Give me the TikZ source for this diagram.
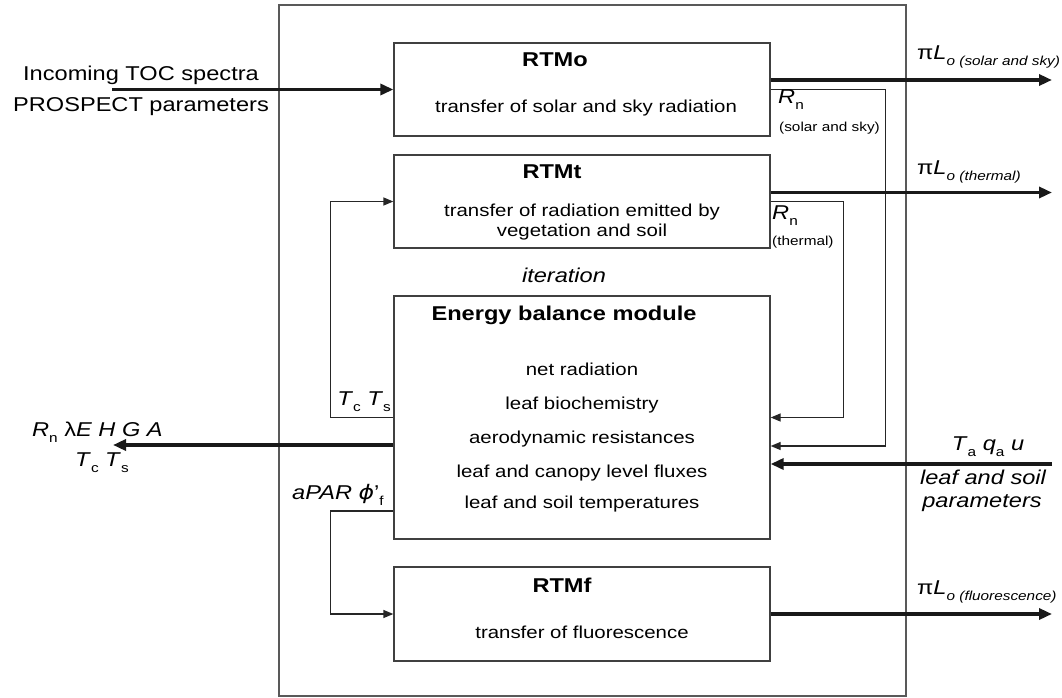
\documentclass[tikz,border=0pt]{standalone}
\usepackage{fontspec}
\setmainfont{Liberation Sans}[FakeStretch=1.18]
\newfontfamily\dvs{DejaVu Sans}[FakeStretch=1.18]
\usetikzlibrary{arrows.meta,calc}
\newcommand{\fs}[1]{\fontsize{#1}{#1}\selectfont}
\newcommand{\sbs}[1]{\raisebox{-0.3em}{\fontsize{13}{13}\selectfont #1}}
\begin{document}
\begin{tikzpicture}[x=1pt,y=-1pt,
  box/.style={draw=black!75, line width=1.3pt, minimum width=376pt, inner sep=0},
  thinln/.style={draw=black!85, line width=1.3pt},
  thinarr/.style={thinln, -{Triangle[length=10pt,width=8pt]}},
  thickarr/.style={draw=black!90, line width=3.5pt, -{Triangle[length=13pt,width=11pt]}},
  lbl/.style={inner sep=0, font=\fs{20}},
  body/.style={inner sep=0, font=\fs{17.3}},
  ttl/.style={inner sep=0, font=\fs{20}\bfseries},
  small/.style={inner sep=0, font=\fs{13}},
]
\useasboundingbox (0,0) rectangle (1062,698);
\node[draw=black!65, line width=1.3pt, minimum width=627pt, minimum height=691pt, inner sep=0] (outer) at (592.5,350.5) {};
% boxes
\node[box, minimum height=93pt] (rtmo) at (582,89.5) {};
\node[box, minimum height=93pt] (rtmt) at (582,201.5) {};
\node[box, minimum height=243pt] (eb) at (582,417.5) {};
\node[box, minimum height=94pt] (rtmf) at (582,614) {};
% box texts
\node[ttl] (tO) at (555,60) {RTMo};
\node[body] (bO) at (586,108) {transfer of solar and sky radiation};
\node[ttl] (tT) at (552,172) {RTMt};
\node[body] (bT1) at (582,212) {transfer of radiation emitted by};
\node[body] (bT2) at (582,232) {vegetation and soil};
\node[lbl, font=\fs{20}\itshape] (iter) at (564,275) {iteration};
\node[ttl] (tE) at (564,315) {Energy balance module};
\node[body] (e1) at (582,369) {net radiation};
\node[body] (e2) at (582,405) {leaf biochemistry};
\node[body] (e3) at (582,439) {aerodynamic resistances};
\node[body] (e4) at (582,473) {leaf and canopy level fluxes};
\node[body] (e5) at (582,504) {leaf and soil temperatures};
\node[ttl] (tF) at (562,585) {RTMf};
\node[body] (bF) at (582,632) {transfer of fluorescence};
% free ends
\coordinate (in1) at (112,89.5);
\coordinate (o1) at (1052,80);
\coordinate (o2) at (1052,192.5);
\coordinate (o3) at (1052,614);
\coordinate (i2) at (1052,464);
\coordinate (oL) at (113,445);
% connectors
\draw[thickarr] (in1) -- (rtmo.west);
\draw[thinarr] (rtmo.east) -- ++(115,0) |- ([yshift=-28.5pt]eb.east);
\draw[thinarr] (rtmt.east) -- ++(73,0) |- (eb.east);
\draw[thickarr] ([yshift=9.5pt]rtmo.east) -- (o1);
\draw[thickarr] ([yshift=9pt]rtmt.east) -- (o2);
\draw[thickarr] (rtmf.east) -- (o3);
\draw[thickarr] (i2) -- ([yshift=-46.5pt]eb.east);
\draw[thinarr] (eb.west) -- ++(-63,0) |- (rtmt.west);
\draw[thickarr] ([yshift=-27.5pt]eb.west) -- (oL);
\draw[thinarr] ([yshift=-93.5pt]eb.west) -- ++(-63,0) |- (rtmf.west);
% labels
\node[lbl] (inA) at (141,75) {Incoming TOC spectra};
\node[lbl] (inB) at (141,107) {PROSPECT parameters};
\node[lbl, anchor=west] (l1) at (917,57) {π\textit{L}\sbs{\textit{o (solar and sky)}}};
\node[lbl, anchor=west] (l2) at (917,172) {π\textit{L}\sbs{\textit{o (thermal)}}};
\node[lbl, anchor=west] (l3) at (917,592) {π\textit{L}\sbs{\textit{o (fluorescence)}}};
\node[lbl, anchor=west] (rn1) at (778,100) {\textit{R}\sbs{n}};
\node[small, anchor=west] (rn1b) at (779,128) {(solar and sky)};
\node[lbl, anchor=west] (rn2) at (772,216) {\textit{R}\sbs{n}};
\node[small, anchor=west] (rn2b) at (772,242) {(thermal)};
\node[lbl, anchor=east] (tcts) at (391,402) {\textit{T}\sbs{c} \textit{T}\sbs{s}};
\node[lbl, anchor=west] (outA) at (32,432) {\textit{R}\sbs{n} λ\textit{E H G A}};
\node[lbl, anchor=west] (outB) at (75,463) {\textit{T}\sbs{c} \textit{T}\sbs{s}};
\node[lbl] (inR1) at (988,447) {\textit{T}\sbs{a} \textit{q}\sbs{a} \textit{u}};
\node[lbl, font=\fs{20}\itshape] (inR2) at (983,477) {leaf and soil};
\node[lbl, font=\fs{20}\itshape] (inR3) at (982,503) {parameters};
\node[lbl, anchor=west] (apar) at (292,495) {\textit{aPAR} {\dvs\itshape ϕ}’\sbs{f}};
\end{tikzpicture}
\end{document}
